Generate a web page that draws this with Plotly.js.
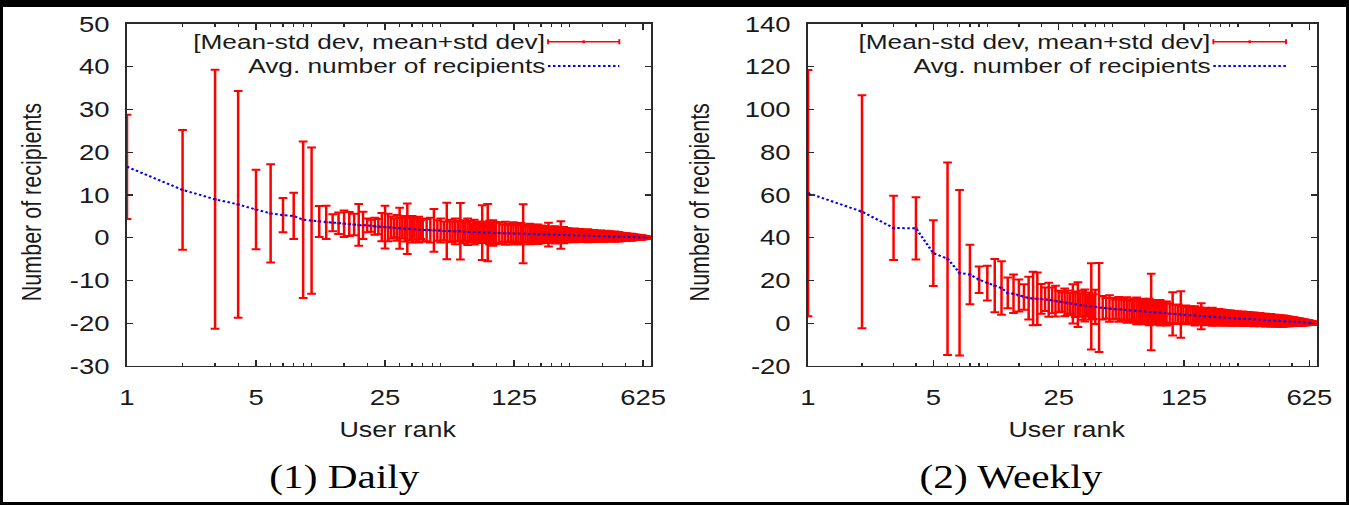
<!DOCTYPE html>
<html>
<head>
<meta charset="utf-8">
<script src="https://cdn.plot.ly/plotly-3.0.1.min.js"></script>
<style>
html, body { margin: 0; padding: 0; background: #000; width: 1349px; height: 505px; overflow: hidden; }
#plot { position: absolute; left: 3px; top: 7px; width: 1074px; height: 495px; background: #fff;
        transform-origin: 0 0; transform: scale(1.2505, 1); }
</style>
</head>
<body>
<div id="plot"></div>
<script>
// ---- data ----
const ranks = [1,2,3,4,5,6,7,8,9,10,11,12,13,14,15,16,17,18,19,20,21,22,23,24,25,26,27,28,29,30,31,32,33,34,35,36,37,38,39,40,
  42,44,46,48,50,52,54,56,58,60,62,64,66,68,70,72,74,76,78,80,82,84,86,88,90,92,94,96,98,100,
  104,108,112,116,120,124,128,132,136,140,144,148,152,156,160,164,168,172,176,180,184,188,192,196,200,204,208,212,216,220,224,228,232,236,240,244,248,
  254,260,266,272,278,284,290,296,302,308,314,320,326,332,338,344,350,356,362,368,374,380,386,392,398,404,410,416,422,428,434,440,446,452,458,464,470,476,482,
  488,494,500,506,512,518,524,530,536,542,548,554,560,566,572,578,584,590,596,602,608,614,620,626,632,638,644,650,656,662];

const dailyMean = [16.6,11.2,9.0,7.8,6.6,5.7,5.3,5.1,4.2,4.0,3.8,3.6,3.5,3.4,3.3,3.2,3.1,3.0,2.9,2.9,2.8,2.7,2.6,2.5,2.5,2.4,2.4,2.3,2.3,2.2,2.2,2.1,2.1,2.0,2.0,2.0,1.9,1.9,1.9,1.8,
  1.8,1.8,1.7,1.7,1.7,1.6,1.6,1.6,1.5,1.5,1.5,1.5,1.4,1.4,1.4,1.4,1.3,1.3,1.3,1.3,1.3,1.2,1.2,1.2,1.2,1.2,1.2,1.1,1.1,1.1,
  1.10,1.08,1.06,1.04,1.02,1.00,0.98,0.96,0.95,0.93,0.92,0.90,0.89,0.87,0.86,0.84,0.82,0.80,0.79,0.77,0.76,0.74,0.73,0.72,0.71,0.70,0.68,0.67,0.66,0.65,0.64,0.63,0.62,0.61,0.60,0.59,0.58,
  0.57,0.56,0.55,0.54,0.53,0.52,0.51,0.50,0.49,0.48,0.47,0.46,0.45,0.44,0.43,0.42,0.41,0.40,0.39,0.38,0.37,0.36,0.35,0.34,0.33,0.32,0.31,0.30,0.29,0.28,0.27,0.26,0.25,0.24,0.23,0.22,0.21,0.20,0.19,
  0.18,0.17,0.17,0.16,0.15,0.15,0.14,0.13,0.13,0.12,0.11,0.11,0.10,0.10,0.09,0.09,0.08,0.08,0.07,0.07,0.06,0.06,0.05,0.05,0.05,0.04,0.04,0.03,0.03,0.03];

const dailyStd = [12.2,14.0,30.3,26.5,9.3,11.5,4.0,5.4,18.3,17.1,3.6,3.9,2.0,2.5,3.1,2.8,2.5,4.9,3.2,1.6,1.4,2.0,1.8,3.3,5.0,3.2,2.6,2.2,3.0,4.8,2.4,3.0,5.9,2.6,3.1,2.4,2.8,3.0,2.2,2.7,
  2.6,2.9,5.0,2.4,2.8,2.2,6.6,2.6,2.3,3.0,2.4,6.6,2.7,2.2,3.1,2.5,2.0,2.9,2.4,2.1,2.5,6.4,2.4,2.3,6.7,2.8,2.2,3.0,2.4,2.6,
  2.4,2.0,2.7,2.2,1.9,2.6,2.3,2.0,2.5,6.9,2.1,1.8,2.4,2.0,2.2,1.7,2.3,1.9,2.1,1.6,2.0,1.8,2.8,1.7,1.9,1.6,2.0,1.5,1.8,1.7,3.2,1.6,1.9,1.5,1.7,1.4,1.6,
  1.5,1.3,1.6,1.2,1.4,1.5,1.1,1.3,1.4,1.2,1.5,1.1,1.3,1.2,1.4,1.0,1.3,1.2,1.1,1.3,1.0,1.2,1.1,1.3,0.9,1.1,1.2,1.0,1.1,0.9,1.0,1.2,0.9,1.0,1.1,0.8,1.0,0.9,0.8,
  0.9,0.8,0.7,0.9,0.8,0.7,0.8,0.6,0.7,0.8,0.6,0.7,0.6,0.5,0.6,0.5,0.6,0.5,0.4,0.5,0.4,0.5,0.4,0.3,0.4,0.3,0.3,0.3,0.2,0.2];

const weeklyMean = [60.9,52.2,44.6,44.4,32.8,30.2,23.6,22.8,20.4,18.8,17.6,16.5,14.2,13.8,13.0,12.3,11.8,11.6,11.5,11.4,11.2,11.0,10.7,10.4,10.2,10.0,9.8,9.5,9.3,9.1,8.9,8.7,8.5,8.4,8.3,8.2,8.1,7.9,7.8,7.7,
  7.4,7.2,7.0,6.9,6.8,6.6,6.5,6.4,6.3,6.2,6.1,6.0,5.9,5.8,5.7,5.6,5.5,5.4,5.4,5.3,5.3,5.2,5.1,5.0,4.9,4.9,4.8,4.7,4.7,4.6,
  4.5,4.4,4.3,4.2,4.1,4.0,3.9,3.8,3.7,3.6,3.5,3.5,3.4,3.3,3.3,3.2,3.1,3.1,3.0,3.0,2.9,2.9,2.8,2.8,2.7,2.7,2.6,2.6,2.5,2.5,2.5,2.4,2.4,2.3,2.3,2.3,2.2,
  2.2,2.2,2.1,2.1,2.0,2.0,1.9,1.9,1.9,1.8,1.8,1.7,1.7,1.7,1.6,1.6,1.5,1.5,1.5,1.4,1.4,1.4,1.3,1.3,1.3,1.2,1.2,1.2,1.1,1.1,1.1,1.0,1.0,1.0,0.95,0.95,0.9,0.9,0.85,
  0.85,0.8,0.8,0.75,0.75,0.7,0.7,0.65,0.6,0.6,0.55,0.55,0.5,0.5,0.45,0.45,0.4,0.4,0.35,0.35,0.3,0.3,0.25,0.25,0.2,0.2,0.15,0.15,0.1,0.1];

const weeklyStd = [57.6,54.5,15.0,14.6,15.4,45.0,38.7,13.9,6.2,8.1,12.5,12.5,7.2,9.0,7.5,6.0,10.0,12.5,12.3,7.0,5.5,8.0,6.0,7.2,5.0,4.5,6.5,5.8,4.8,9.2,6.0,10.5,5.5,6.8,7.5,5.2,6.3,20.2,5.8,8.0,
  20.8,5.5,4.8,6.2,5.0,4.5,5.8,5.2,4.6,6.0,5.1,4.4,5.7,6.3,4.9,5.4,6.0,4.7,5.5,6.2,17.9,5.0,5.8,4.6,5.3,6.0,4.9,5.4,4.5,5.6,
  4.8,10.1,4.2,4.6,10.9,4.0,4.4,3.8,4.2,3.9,4.5,3.6,4.0,6.1,3.7,4.1,3.5,3.9,3.6,4.2,3.4,3.8,3.5,3.9,3.3,3.7,3.4,3.6,3.2,3.5,3.3,3.6,3.1,3.4,3.2,3.0,3.3,
  3.2,2.9,3.4,3.0,2.8,3.3,2.9,3.1,2.7,3.2,2.8,3.0,2.6,3.1,2.7,2.9,2.5,3.0,2.6,2.8,2.4,2.9,2.5,2.7,2.3,2.8,2.4,2.6,2.2,2.7,2.3,2.5,2.1,2.6,2.2,2.4,2.0,2.3,2.1,
  2.2,2.0,2.1,1.9,2.0,1.8,1.9,1.7,1.8,1.6,1.7,1.5,1.6,1.4,1.5,1.3,1.4,1.2,1.3,1.1,1.2,1.0,1.1,0.9,1.0,0.8,0.9,0.7,0.8,0.6];

const majorTicks = [1, 5, 25, 125, 625];
const majorLabels = ['1', '5', '25', '125', '625'];
const minorTicks = [2,3,4,6,7,8,9,10,15,20,30,35,40,45,50,75,100,150,175,200,225,250,375,500];
const dailyYTicks = [-30, -20, -10, 0, 10, 20, 30, 40, 50];
const dailyYLabels = ['-30', '-20', '-10', '0', '10', '20', '30', '40', '50'];
const weeklyYTicks = [-20, 0, 20, 40, 60, 80, 100, 120, 140];
const weeklyYLabels = ['-20', '0', '20', '40', '60', '80', '100', '120', '140'];
const legendLabels = ['[Mean-std dev, mean+std dev]', 'Avg. number of recipients'];
const yTitle = 'Number of recipients';
const xTitle = 'User rank';
const subTitles = ['(1) Daily', '(2) Weekly'];

// ---- styling ----
const RED = '#ff0000', BLUE = '#0000ff', INK = '#1a1a1a', FRAME = '#2a2a2a';
const SANS = 'Liberation Sans, Arial, sans-serif';
const SERIF = 'Liberation Serif, Times New Roman, serif';

function errTrace(ys, sd, xa, ya) {
  return { x: ranks, y: ys, xaxis: xa, yaxis: ya, type: 'scatter', mode: 'markers',
    marker: { color: RED, size: 3 }, showlegend: false, hoverinfo: 'skip',
    error_y: { type: 'data', array: sd, visible: true, color: RED, thickness: 2, width: 3.5 } };
}
function meanTrace(ys, xa, ya) {
  return { x: ranks, y: ys, xaxis: xa, yaxis: ya, type: 'scatter', mode: 'lines',
    line: { color: BLUE, width: 2, dash: '2px,2px' }, showlegend: false, hoverinfo: 'skip' };
}

const data = [
  errTrace(dailyMean, dailyStd, 'x', 'y'), meanTrace(dailyMean, 'x', 'y'),
  errTrace(weeklyMean, weeklyStd, 'x2', 'y2'), meanTrace(weeklyMean, 'x2', 'y2')
];

function xAxis(domain, anchor) {
  return { domain: domain, anchor: anchor, type: 'log', range: [0, 2.8388],
    tickmode: 'array', tickvals: majorTicks, ticktext: majorLabels,
    ticks: 'inside', ticklen: 6, tickwidth: 1.2, tickcolor: FRAME,
    minor: { tickmode: 'array', tickvals: minorTicks, ticks: 'inside', ticklen: 3, tickwidth: 1, tickcolor: FRAME, showgrid: false },
    showline: true, linecolor: FRAME, linewidth: 1.5, mirror: 'ticks',
    showgrid: false, zeroline: false, ticklabelstandoff: 11,
    tickfont: { family: SANS, size: 22, color: INK } };
}
function yAxis(domain, anchor, range, vals, labels) {
  return { domain: domain, anchor: anchor, range: range, tickmode: 'array', tickvals: vals, ticktext: labels,
    ticks: 'inside', ticklen: 5, tickwidth: 1.2, tickcolor: FRAME,
    showline: true, linecolor: FRAME, linewidth: 1.5, mirror: 'ticks',
    showgrid: false, zeroline: false, ticklabelstandoff: 8,
    tickfont: { family: SANS, size: 22, color: INK } };
}

const yDom = [0.27475, 0.96566];
const panels = [
  { xref: 'x domain', yref: 'y domain', x0: 0.8034, x1: 0.9395 },
  { xref: 'x2 domain', yref: 'y2 domain', x0: 0.7963, x1: 0.9391 }
];
const shapes = [];
const annotations = [];
panels.forEach(p => {
  const yA = 0.9482, yB = 0.8772, cap = 0.0075;
  shapes.push({ type: 'line', xref: p.xref, yref: p.yref, x0: p.x0, x1: p.x1, y0: yA, y1: yA, line: { color: RED, width: 1.5 } });
  shapes.push({ type: 'line', xref: p.xref, yref: p.yref, x0: p.x0, x1: p.x0, y0: yA - cap, y1: yA + cap, line: { color: RED, width: 1.5 } });
  shapes.push({ type: 'line', xref: p.xref, yref: p.yref, x0: p.x1, x1: p.x1, y0: yA - cap, y1: yA + cap, line: { color: RED, width: 1.5 } });
  const xm = (p.x0 + p.x1) / 2;
  shapes.push({ type: 'line', xref: p.xref, yref: p.yref, x0: xm, x1: xm, y0: yA - 0.004, y1: yA + 0.004, line: { color: RED, width: 2 } });
  shapes.push({ type: 'line', xref: p.xref, yref: p.yref, x0: p.x0, x1: p.x1, y0: yB, y1: yB, line: { color: BLUE, width: 2, dash: '2px,2px' } });
  annotations.push({ xref: p.xref, yref: p.yref, x: p.x0, y: yA, xanchor: 'right', yanchor: 'middle', showarrow: false,
    text: legendLabels[0], font: { family: SANS, size: 21, color: INK } });
  annotations.push({ xref: p.xref, yref: p.yref, x: p.x0, y: yB, xanchor: 'right', yanchor: 'middle', showarrow: false,
    text: legendLabels[1], font: { family: SANS, size: 21, color: INK } });
});

// axis titles & sub-captions
annotations.push({ xref: 'paper', yref: 'paper', x: 0.02159, y: 0.6060, textangle: -90, showarrow: false,
  xanchor: 'center', yanchor: 'middle', text: yTitle, font: { family: SANS, size: 21.5, color: INK } });
annotations.push({ xref: 'paper', yref: 'paper', x: 0.5190, y: 0.6060, textangle: -90, showarrow: false,
  xanchor: 'center', yanchor: 'middle', text: yTitle, font: { family: SANS, size: 21.5, color: INK } });
annotations.push({ xref: 'paper', yref: 'paper', x: 0.2934, y: 0.1455, showarrow: false,
  xanchor: 'center', yanchor: 'middle', text: xTitle, font: { family: SANS, size: 21.5, color: INK } });
annotations.push({ xref: 'paper', yref: 'paper', x: 0.7923, y: 0.1455, showarrow: false,
  xanchor: 'center', yanchor: 'middle', text: xTitle, font: { family: SANS, size: 21.5, color: INK } });
annotations.push({ xref: 'paper', yref: 'paper', x: 0.2547, y: 0.0485, showarrow: false,
  xanchor: 'center', yanchor: 'middle', text: subTitles[0], font: { family: SERIF, size: 33, color: '#000' } });
annotations.push({ xref: 'paper', yref: 'paper', x: 0.7506, y: 0.0485, showarrow: false,
  xanchor: 'center', yanchor: 'middle', text: subTitles[1], font: { family: SERIF, size: 33, color: '#000' } });

const layout = {
  width: 1074, height: 495,
  margin: { l: 0, r: 0, t: 0, b: 0, pad: 0 },
  paper_bgcolor: '#ffffff', plot_bgcolor: '#ffffff',
  showlegend: false,
  xaxis: xAxis([0.09233, 0.48250], 'y'),
  yaxis: yAxis(yDom, 'x', [-30, 50], dailyYTicks, dailyYLabels),
  xaxis2: xAxis([0.59940, 0.97840], 'y2'),
  yaxis2: yAxis(yDom, 'x2', [-20, 140], weeklyYTicks, weeklyYLabels),
  shapes: shapes,
  annotations: annotations
};

Plotly.newPlot('plot', data, layout, { displayModeBar: false, staticPlot: true });
</script>
</body>
</html>
